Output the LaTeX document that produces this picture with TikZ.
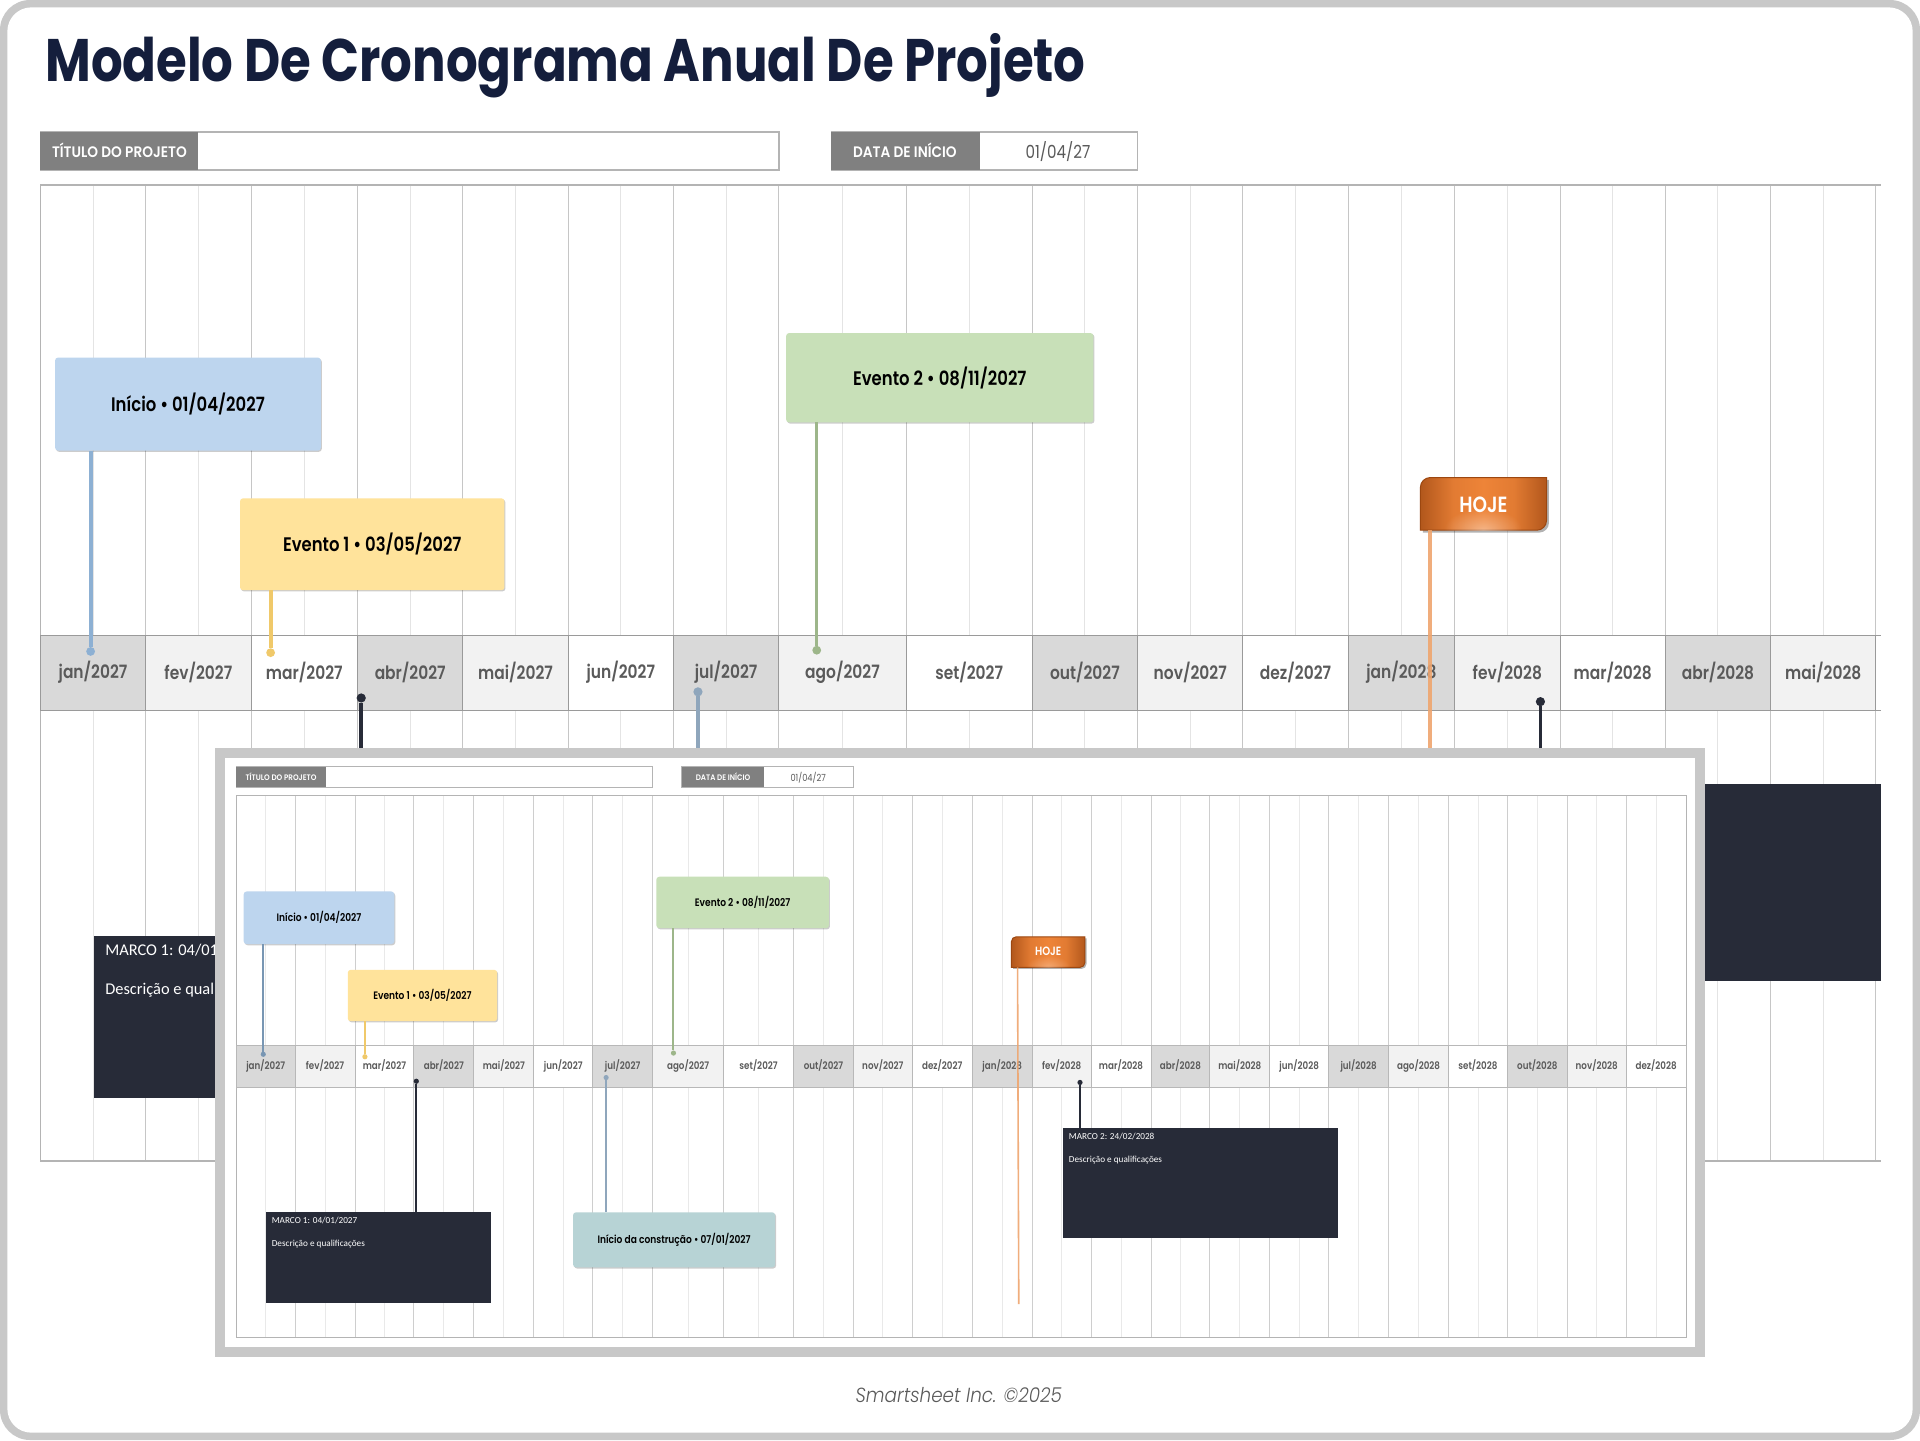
\documentclass[tikz,border=0pt]{standalone}
\usepackage{fontspec}
\usetikzlibrary{shadows,calc,fadings}
\setmainfont{Poppins}
\newfontfamily\ttlf{Poppins}[FakeStretch=0.83,BoldFont=* Bold]
\newfontfamily\monf{Poppins SemiBold}[FakeStretch=0.84]
\newfontfamily\evf{Poppins SemiBold}[FakeStretch=0.84]
\newfontfamily\hdf{Poppins SemiBold}[FakeStretch=0.90]
\newfontfamily\dtf{Poppins}[FakeStretch=0.84]
\newfontfamily\calf{Carlito}
\newfontfamily\ftf{Poppins Light Italic}[FakeStretch=0.90]
\definecolor{frameg}{HTML}{C8C8C8}
\definecolor{titlec}{HTML}{141E3C}
\definecolor{labg}{HTML}{808080}
\definecolor{monc}{HTML}{5A5A5A}
\definecolor{maj}{HTML}{C6C6C6}
\definecolor{minr}{HTML}{E4E4E4}
\definecolor{imaj}{HTML}{CECECE}
\definecolor{iminr}{HTML}{E9E9E9}
\definecolor{hdl}{HTML}{B4B4B4}
\definecolor{bandl}{HTML}{9A9A9A}
\definecolor{cd}{HTML}{D9D9D9}
\definecolor{cl}{HTML}{F2F2F2}
\definecolor{cw}{HTML}{FFFFFF}
\definecolor{navy}{HTML}{272B38}
\definecolor{evblue}{HTML}{BDD5EE}
\definecolor{evyel}{HTML}{FFE39B}
\definecolor{evgrn}{HTML}{C8E0B8}
\definecolor{evtea}{HTML}{B7D3D5}
\definecolor{stblue}{HTML}{8DB0D3}
\definecolor{styel}{HTML}{F0C96A}
\definecolor{stgrn}{HTML}{9DB68A}
\definecolor{sttea}{HTML}{8FA6BC}
\definecolor{storg}{HTML}{EFA56E}
\definecolor{hojeedge}{HTML}{B2571C}
\definecolor{hojemid}{HTML}{EE8438}
\definecolor{hojeline}{HTML}{9C4710}
\pgfdeclarehorizontalshading{hojeshade}{100bp}{color(0bp)=(hojeedge); color(25bp)=(hojeedge); color(38bp)=(hojemid!80!hojeedge); color(50bp)=(hojemid); color(62bp)=(hojemid!80!hojeedge); color(75bp)=(hojeedge); color(100bp)=(hojeedge)}
\tikzfading[name=hojeglow,inner color=transparent!0,outer color=transparent!100]
\def\U{0.61224}
\tikzset{
  pxbox/.style={rectangle,inner sep=0pt,outer sep=0pt},
  evbox/.style={pxbox,rounded corners=1.5pt,text=black,drop shadow={shadow xshift=0.5pt,shadow yshift=-0.6pt,opacity=.2,fill=black}},
  dkbox/.style={pxbox,fill=navy},
  dot/.style={circle,inner sep=0pt,outer sep=0pt},
  lbl/.style={inner sep=0pt,outer sep=0pt},
  hdline/.style={draw=hdl,line width=0.8pt},
  stembig/.style={line width=1.9pt},
  stemsmall/.style={line width=1.0pt},
  hojefill/.style={draw=hojeline,line width=0.5pt,shading=hojeshade},
}
% \pxnode{name}{x0}{y0}{x1}{y1}{style}{text}
\newcommand{\pxnode}[7]{%
  \pgfmathsetlengthmacro\boxw{(#4-#2)*\U}%
  \pgfmathsetlengthmacro\boxh{(#5-#3)*\U}%
  \node[#6,minimum width=\boxw,minimum height=\boxh] (#1) at ({(#2+#4)/2},{(#3+#5)/2}) {#7};}
\begin{document}
\begin{tikzpicture}[x=0.61224pt,y=-0.61224pt]
\useasboundingbox (0,0) rectangle (1568,1176);
\fill[white] (0,0) rectangle (1568,1176);
\fill[frameg,rounded corners=15pt] (0,0) rectangle (1568,1176);
\fill[white,rounded corners=12pt] (6,6) rectangle (1562,1170);
% title
\node[lbl,anchor=base west,text=titlec,font=\ttlf\bfseries\fontsize{30}{30}\selectfont] (title) at (37,66.5) {Modelo De Cronograma Anual De Projeto};
% header
\draw[hdline] (33,108) rectangle (636,139);
\fill[labg] (33,108) rectangle (162,139);
\node[lbl,text=white,font=\hdf\fontsize{7.6}{8}\selectfont] (h1) at (97.5,123) {TÍTULO DO PROJETO};
\draw[hdline] (679,108) rectangle (929,139);
\fill[labg] (679,108) rectangle (800,139);
\node[lbl,text=white,font=\hdf\fontsize{7.6}{8}\selectfont] (h2) at (739,123) {DATA DE INÍCIO};
\node[lbl,text=monc,font=\dtf\fontsize{9}{9}\selectfont] (h3) at (864,124) {01/04/27};
% outer grid
\foreach \a/\b in {33/119,119/205,205/292,292/378,378/464,464/550,550/636,636/740,740/843,843/929,929/1015,1015/1101,1101/1188,1188/1274,1274/1360,1360/1446,1446/1532}{
  \draw[minr,line width=0.5pt] ({(\a+\b)/2},151) -- ({(\a+\b)/2},948);
  \draw[maj,line width=0.5pt] (\a,151) -- (\a,948);
}
\draw[maj,line width=0.5pt] (1532,151) -- (1532,948);
\draw[hdl,line width=0.8pt] (33,151) -- (1536,151);
\draw[hdl,line width=0.8pt] (33,948) -- (1536,948);
\draw[hdl,line width=0.8pt] (33,151) -- (33,948);
% outer band
\foreach \a/\b/\mname/\t [count=\i] in {33/119/jan\slash 2027/cd,119/205/fev\slash 2027/cl,205/292/mar\slash 2027/cw,292/378/abr\slash 2027/cd,378/464/mai\slash 2027/cl,464/550/jun\slash 2027/cw,550/636/jul\slash 2027/cd,636/740/ago\slash 2027/cl,740/843/set\slash 2027/cw,843/929/out\slash 2027/cd,929/1015/nov\slash 2027/cl,1015/1101/dez\slash 2027/cw,1101/1188/jan\slash 2028/cd,1188/1274/fev\slash 2028/cl,1274/1360/mar\slash 2028/cw,1360/1446/abr\slash 2028/cd,1446/1532/mai\slash 2028/cl}{
  \path[fill=\t,draw=bandl,line width=0.5pt] (\a,519) rectangle (\b,580);
  \node[lbl,text=monc,font=\monf\fontsize{9.2}{10}\selectfont] (m\i) at ({(\a+\b)/2},549) {\mname};
}
\draw[bandl,line width=0.5pt] (1532,519) -- (1536,519);
\draw[bandl,line width=0.5pt] (1532,580) -- (1536,580);
% outer events
\pxnode{ini}{45}{292}{262}{368}{evbox,fill=evblue}{\evf\fontsize{9.8}{10}\selectfont Início • 01/04/2027}
\pxnode{ev1}{196}{407}{412}{482}{evbox,fill=evyel}{\evf\fontsize{9.8}{10}\selectfont Evento 1 • 03/05/2027}
\pxnode{ev2}{642}{272}{893}{345}{evbox,fill=evgrn}{\evf\fontsize{9.8}{10}\selectfont Evento 2 • 08/11/2027}
\node[dot,fill=stblue,minimum size=4.4pt] (dini) at (74,532) {};
\node[dot,fill=styel,minimum size=4.4pt] (dev1) at (221,533) {};
\node[dot,fill=stgrn,minimum size=4.4pt] (dev2) at (667,531) {};
\draw[stblue,stembig] (dini |- ini.south) -- (dini);
\draw[styel,stembig] (dev1 |- ev1.south) -- (dev1);
\draw[stgrn,line width=1.5pt] (dev2 |- ev2.south) -- (dev2);
% HOJE outer
\path[hojefill,drop shadow={shadow xshift=1.2pt,shadow yshift=-1.2pt,opacity=.3,fill=black}]
  (1168,390) -- (1263,390) -- (1263,425) arc[start angle=0,end angle=90,radius=8] -- (1160,433) -- (1160,398) arc[start angle=180,end angle=270,radius=8] -- cycle;
\begin{scope}
  \clip (1160,390) rectangle (1263,433);
  \fill[white,path fading=hojeglow,opacity=.4] (1211,433) ellipse[x radius=32,y radius=18];
\end{scope}
\node[lbl,text=white,font=\evf\fontsize{11}{11}\selectfont] (hj) at (1211.5,412) {HOJE};
\coordinate (hjs) at (1168,433);
\coordinate (hje) at (1168,614);
\draw[storg,stembig,opacity=.9] (hjs) -- (hje);
% dark boxes and stems running under the inset
\pxnode{mk1}{77}{764}{180}{897}{dkbox}{}
\node[lbl,anchor=west,text=white,font=\calf\fontsize{8.2}{9}\selectfont] (mk1a) at (86,776) {MARCO 1: 04/01};
\node[lbl,anchor=west,text=white,font=\calf\fontsize{8.2}{9}\selectfont] (mk1b) at (86,809) {Descrição e qual};
\pxnode{mk2}{1388}{640}{1536}{801}{dkbox}{}
\node[dot,fill=navy,minimum size=4.6pt] (dm1) at (295,570) {};
\node[dot,fill=sttea,minimum size=4.6pt] (dc) at (570,565) {};
\node[dot,fill=navy,minimum size=4.6pt] (dm2) at (1258,573) {};
\coordinate (um1) at (295,614);
\coordinate (uc) at (570,614);
\coordinate (um2) at (1258,614);
\draw[navy,stembig] (dm1) -- (um1);
\draw[sttea,stembig] (dc) -- (uc);
\draw[navy,stembig] (dm2) -- (um2);
% ================= inset
\draw[frameg,line width=5pt,fill=white] (180,615) rectangle (1388,1104);
% inset header
\draw[hdl,line width=0.6pt] (193,626) rectangle (533,643);
\fill[labg] (193,626) rectangle (266,643);
\node[lbl,text=white,font=\hdf\fontsize{4}{4}\selectfont] (ih1) at (229.5,634.5) {TÍTULO DO PROJETO};
\draw[hdl,line width=0.6pt] (557,626) rectangle (697,643);
\fill[labg] (557,626) rectangle (624,643);
\node[lbl,text=white,font=\hdf\fontsize{4}{4}\selectfont] (ih2) at (590.5,634.5) {DATA DE INÍCIO};
\node[lbl,text=monc,font=\dtf\fontsize{4.9}{5}\selectfont] (ih3) at (660,635) {01/04/27};
% inset grid
\foreach \a/\b in {193/241,241/290,290/338,338/387,387/436,436/484,484/533,533/591,591/648,648/697,697/745,745/794,794/843,843/891,891/940,940/988,988/1037,1037/1085,1085/1134,1134/1183,1183/1231,1231/1280,1280/1328,1328/1377}{
  \draw[iminr,line width=0.4pt] ({(\a+\b)/2},650) -- ({(\a+\b)/2},1092);
  \draw[imaj,line width=0.4pt] (\a,650) -- (\a,1092);
}
\draw[hdl,line width=0.5pt] (193,650) rectangle (1377,1092);
\foreach \a/\b/\mname/\t [count=\i] in {193/241/jan\slash 2027/cd,241/290/fev\slash 2027/cl,290/338/mar\slash 2027/cw,338/387/abr\slash 2027/cd,387/436/mai\slash 2027/cl,436/484/jun\slash 2027/cw,484/533/jul\slash 2027/cd,533/591/ago\slash 2027/cl,591/648/set\slash 2027/cw,648/697/out\slash 2027/cd,697/745/nov\slash 2027/cl,745/794/dez\slash 2027/cw,794/843/jan\slash 2028/cd,843/891/fev\slash 2028/cl,891/940/mar\slash 2028/cw,940/988/abr\slash 2028/cd,988/1037/mai\slash 2028/cl,1037/1085/jun\slash 2028/cw,1085/1134/jul\slash 2028/cd,1134/1183/ago\slash 2028/cl,1183/1231/set\slash 2028/cw,1231/1280/out\slash 2028/cd,1280/1328/nov\slash 2028/cl,1328/1377/dez\slash 2028/cw}{
  \path[fill=\t,draw=bandl!70,line width=0.4pt] (\a,854) rectangle (\b,888);
  \node[lbl,text=monc,font=\monf\fontsize{5.2}{6}\selectfont] (n\i) at ({(\a+\b)/2},870.5) {\mname};
}
% inset events
\pxnode{iini}{199}{728}{322}{771}{evbox,fill=evblue}{\evf\fontsize{5.4}{6}\selectfont Início • 01/04/2027}
\pxnode{iev1}{284}{792}{406}{834}{evbox,fill=evyel}{\evf\fontsize{5.4}{6}\selectfont Evento 1 • 03/05/2027}
\pxnode{iev2}{536}{716}{677}{758}{evbox,fill=evgrn}{\evf\fontsize{5.4}{6}\selectfont Evento 2 • 08/11/2027}
\pxnode{icon}{468}{990}{633}{1035}{evbox,fill=evtea}{\evf\fontsize{5.4}{6}\selectfont Início da construção • 07/01/2027}
\pxnode{imk1}{217}{990}{401}{1064}{dkbox}{}
\pxnode{imk2}{868}{921}{1093}{1011}{dkbox}{}
\node[lbl,anchor=west,text=white,font=\calf\fontsize{4.6}{5}\selectfont] (imk1a) at (222,996.5) {MARCO 1: 04/01/2027};
\node[lbl,anchor=west,text=white,font=\calf\fontsize{4.6}{5}\selectfont] (imk1b) at (222,1016) {Descrição e qualificações};
\node[lbl,anchor=west,text=white,font=\calf\fontsize{4.6}{5}\selectfont] (imk2a) at (873,928) {MARCO 2: 24/02/2028};
\node[lbl,anchor=west,text=white,font=\calf\fontsize{4.6}{5}\selectfont] (imk2b) at (873,947) {Descrição e qualificações};
\node[dot,fill=stblue!85!black,minimum size=2.6pt] (diini) at (215,861) {};
\node[dot,fill=styel,minimum size=2.6pt] (diev1) at (298,863) {};
\node[dot,fill=stgrn,minimum size=2.6pt] (diev2) at (550,860) {};
\node[dot,fill=navy,minimum size=2.6pt] (dim1) at (340,883) {};
\node[dot,fill=sttea,minimum size=2.6pt] (dic) at (495,880) {};
\node[dot,fill=navy,minimum size=2.6pt] (dim2) at (882,884) {};
\draw[stblue!85!black,stemsmall] (diini |- iini.south) -- (diini);
\draw[styel,stemsmall] (diev1 |- iev1.south) -- (diev1);
\draw[stgrn,stemsmall] (diev2 |- iev2.south) -- (diev2);
\draw[navy,stemsmall] (dim1) -- (dim1 |- imk1.north);
\draw[sttea,stemsmall] (dic) -- (dic |- icon.north);
\draw[navy,stemsmall] (dim2) -- (dim2 |- imk2.north);
% inset HOJE
\path[hojefill,drop shadow={shadow xshift=0.8pt,shadow yshift=-0.8pt,opacity=.3,fill=black}]
  (830,765) -- (886,765) -- (886,786) arc[start angle=0,end angle=90,radius=4] -- (826,790) -- (826,769) arc[start angle=180,end angle=270,radius=4] -- cycle;
\begin{scope}
  \clip (826,765) rectangle (886,790);
  \fill[white,path fading=hojeglow,opacity=.3] (856,790) ellipse[x radius=18,y radius=10];
\end{scope}
\node[lbl,text=white,font=\evf\fontsize{6}{6}\selectfont] (ihj) at (856,777) {HOJE};
\coordinate (ihjs) at (831,790);
\coordinate (ihje) at (832,1065);
\draw[storg,line width=0.8pt,opacity=.9] (ihjs) -- (ihje);
% footer
\node[lbl,text=monc,font=\ftf\fontsize{10.2}{11}\selectfont] (foot) at (783,1139) {Smartsheet Inc. ©2025};
\end{tikzpicture}
\end{document}
